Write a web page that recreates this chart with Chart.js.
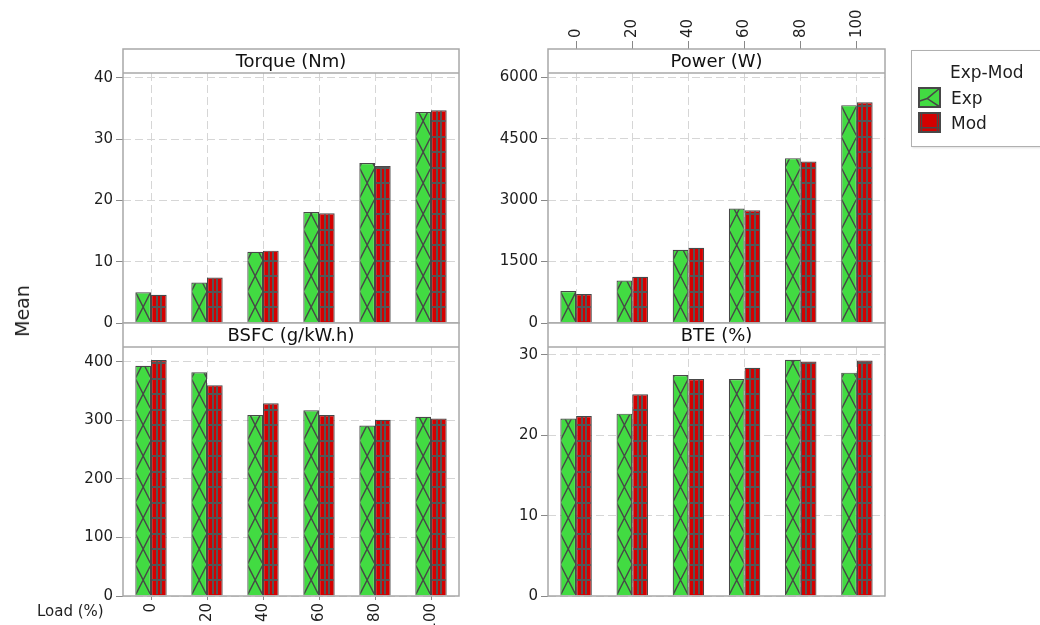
<!DOCTYPE html>
<html>
<head>
<meta charset="utf-8">
<script src="https://cdn.jsdelivr.net/npm/chart.js@4.4.1/dist/chart.umd.min.js"></script>
<style>
  html, body { margin: 0; padding: 0; background: #fff; }
  #wrap { position: relative; width: 1040px; height: 625px; overflow: hidden;
          font-family: 'DejaVu Sans', sans-serif; color: #1e1e1e; }
  #wrap canvas.panel { position: absolute; left: 0; top: 0; }
  #mean { position: absolute; left: 22px; top: 311px; font-size: 19px; white-space: nowrap;
          transform: translate(-50%, -50%) rotate(-90deg); }
  #load { position: absolute; left: 37px; top: 602px; font-size: 15px; white-space: nowrap; }
  #legend { position: absolute; left: 911px; top: 50px; width: 140px; height: 95px;
            border: 1px solid #b0b0b0; background: #fff; box-shadow: 1px 1px 2px rgba(0,0,0,0.12); }
  #legend .lt { position: absolute; left: 38px; top: 11px; font-size: 17px; white-space: nowrap; }
  #legend .row { position: absolute; left: 6px; height: 22px; white-space: nowrap; }
  #legend .row canvas { position: absolute; left: 0; top: 0; }
  #legend .row span { position: absolute; left: 33px; top: 0px; font-size: 17px; line-height: 22px; }
</style>
</head>
<body>
<div id="wrap">
  <canvas class="panel" id="cTorque" width="1040" height="625"></canvas>
  <canvas class="panel" id="cPower" width="1040" height="625"></canvas>
  <canvas class="panel" id="cBsfc" width="1040" height="625"></canvas>
  <canvas class="panel" id="cBte" width="1040" height="625"></canvas>
  <div id="mean">Mean</div>
  <div id="load">Load (%)</div>
  <div id="legend">
    <div class="lt">Exp-Mod</div>
    <div class="row" style="top:36px"><canvas id="swExp" width="23" height="21"></canvas><span>Exp</span></div>
    <div class="row" style="top:61px"><canvas id="swMod" width="23" height="21"></canvas><span>Mod</span></div>
  </div>
</div>
<script>
// Engine load levels (%)
const loads = ['0', '20', '40', '60', '80', '100'];

// Mean values per load: experiment vs. model
const torqueExp = [5.0, 6.6, 11.6, 18.1, 26.1, 34.4];
const torqueMod = [4.6, 7.4, 11.8, 17.9, 25.6, 34.7];
const powerExp  = [780, 1035, 1790, 2795, 4025, 5320];
const powerMod  = [710, 1130, 1835, 2755, 3945, 5390];
const bsfcExp   = [393, 382, 309, 317, 291, 306];
const bsfcMod   = [403, 360, 329, 309, 301, 303];
const bteExp    = [22.1, 22.7, 27.5, 27.0, 29.4, 27.8];
const bteMod    = [22.4, 25.1, 27.0, 28.4, 29.2, 29.3];

// y tick labels per panel
const torqueTicks = [0, 10, 20, 30, 40];
const powerTicks  = [0, 1500, 3000, 4500, 6000];
const bsfcTicks   = [0, 100, 200, 300, 400];
const bteTicks    = [0, 10, 20, 30];

const EXP_FILL = '#42db42';
const MOD_FILL = '#d40000';
const EDGE = '#484848';
const HATCH = '#474747';
const GRID_HATCH = '#555555';
const GRID = '#d6d6d6';
const FRAME = '#a8a8a8';
const STRIP_H = 24;
const Y_AXIS_W = 60;
const TICK_FONT = 15;

Chart.defaults.font.family = "'DejaVu Sans', sans-serif";
Chart.defaults.color = '#1e1e1e';

// Hatch lines inside a bar rectangle
function hatchRect(ctx, kind, l, t, r, b, base) {
  ctx.save();
  ctx.beginPath();
  ctx.rect(l, t, r - l, b - t);
  ctx.clip();
  if (kind === 'cross') {
    ctx.strokeStyle = HATCH;
    ctx.lineWidth = 1.4;
    ctx.beginPath();
    const P = 31;
    for (let yk = base + P; yk > t - P; yk -= P) {
      ctx.moveTo(l - 1, yk); ctx.lineTo(r + 1, yk - P);
      ctx.moveTo(l - 1, yk - P); ctx.lineTo(r + 1, yk);
    }
    ctx.stroke();
  } else {
    // square grid: two vertical rules and a horizontal rule every half period
    ctx.fillStyle = GRID_HATCH;
    const w = r - l;
    [l + w / 3, l + 2 * w / 3].forEach(vx => {
      ctx.fillRect(Math.round(vx) - 1, t, 2, b - t);
    });
    for (let yk = base - 15.5; yk > t; yk -= 15.5) {
      ctx.fillRect(l, Math.round(yk) - 1, w, 2);
    }
  }
  ctx.restore();
}

const barHatch = {
  id: 'barHatch',
  afterDatasetsDraw(chart) {
    const ctx = chart.ctx;
    chart.data.datasets.forEach((ds, di) => {
      const meta = chart.getDatasetMeta(di);
      meta.data.forEach(bar => {
        const { x, y, base, width } = bar.getProps(['x', 'y', 'base', 'width'], true);
        const l = x - width / 2 + 1, r = x + width / 2 - 1;
        const t = Math.min(y, base) + 1, b = Math.max(y, base) - 1;
        if (b - t < 1) return;
        hatchRect(ctx, ds.hatch, l, t, r, b, base);
      });
    });
  }
};

// Panel frame with a header strip carrying the panel name
const panelFrame = {
  id: 'panelFrame',
  afterDraw(chart, args, opts) {
    const { ctx, chartArea: a } = chart;
    const sb = a.top + STRIP_H;
    ctx.save();
    ctx.fillStyle = '#fff';
    ctx.fillRect(a.left, a.top, a.right - a.left, STRIP_H);
    ctx.strokeStyle = FRAME;
    ctx.lineWidth = 1.5;
    ctx.strokeRect(a.left, a.top, a.right - a.left, a.bottom - a.top);
    ctx.beginPath();
    ctx.moveTo(a.left, sb); ctx.lineTo(a.right, sb);
    ctx.stroke();
    ctx.fillStyle = '#111';
    ctx.font = "18px 'DejaVu Sans', sans-serif";
    ctx.textAlign = 'center';
    ctx.textBaseline = 'middle';
    ctx.fillText(opts.title, (a.left + a.right) / 2, a.top + STRIP_H / 2 + 1);
    ctx.restore();
  }
};

function makePanel(id, cfg) {
  const xTop = cfg.xAxis === 'top';
  const xBottom = cfg.xAxis === 'bottom';
  const xH = xTop ? cfg.T : (xBottom ? 625 - cfg.B : 0);
  return new Chart(document.getElementById(id), {
    type: 'bar',
    data: {
      labels: loads,
      datasets: [
        { label: 'Exp', data: cfg.exp, backgroundColor: EXP_FILL, borderColor: EDGE,
          borderWidth: 1.2, hatch: 'cross' },
        { label: 'Mod', data: cfg.mod, backgroundColor: MOD_FILL, borderColor: EDGE,
          borderWidth: 1.2, hatch: 'grid' }
      ]
    },
    options: {
      responsive: false,
      animation: false,
      devicePixelRatio: 1,
      categoryPercentage: 0.56,
      barPercentage: 1.0,
      layout: {
        padding: {
          left: cfg.L - Y_AXIS_W,
          right: 1040 - cfg.R,
          top: xTop ? 0 : cfg.T,
          bottom: xBottom ? 0 : 625 - cfg.B
        }
      },
      plugins: {
        legend: { display: false },
        tooltip: { enabled: false },
        panelFrame: { title: cfg.title }
      },
      scales: {
        x: {
          position: xTop ? 'top' : 'bottom',
          offset: true,
          grid: { offset: false, color: GRID, lineWidth: 1,
                  drawTicks: xTop || xBottom, tickLength: xTop ? 8 : 4, tickColor: '#888' },
          border: { display: false, dash: [8, 4] },
          ticks: { display: xTop || xBottom, minRotation: 90, maxRotation: 90, autoSkip: false,
                   padding: 3, font: { size: TICK_FONT }, color: '#1e1e1e',
                   // rotated labels above the axis sit one line-height off centre
                   labelOffset: xTop ? TICK_FONT * 1.2 : 0 },
          afterFit: s => { s.height = xH; }
        },
        y: {
          min: 0,
          max: cfg.max,
          afterBuildTicks: s => { s.ticks = cfg.ticks.map(v => ({ value: v })); },
          afterFit: s => { s.width = Y_AXIS_W; },
          grid: { color: GRID, lineWidth: 1, tickLength: 7, tickColor: '#888' },
          border: { display: false, dash: [8, 4] },
          ticks: { padding: 3, font: { size: TICK_FONT }, color: '#1e1e1e',
                   callback: v => String(v) }
        }
      }
    },
    plugins: [barHatch, panelFrame]
  });
}

makePanel('cTorque', { title: 'Torque (Nm)', L: 123, R: 459, T: 49, B: 323,
  exp: torqueExp, mod: torqueMod, ticks: torqueTicks, max: 44.68, xAxis: 'none' });
makePanel('cPower', { title: 'Power (W)', L: 548, R: 885, T: 49, B: 323,
  exp: powerExp, mod: powerMod, ticks: powerTicks, max: 6691, xAxis: 'top' });
makePanel('cBsfc', { title: 'BSFC (g/kW.h)', L: 123, R: 459, T: 323, B: 596,
  exp: bsfcExp, mod: bsfcMod, ticks: bsfcTicks, max: 466.1, xAxis: 'bottom' });
makePanel('cBte', { title: 'BTE (%)', L: 548, R: 885, T: 323, B: 596,
  exp: bteExp, mod: bteMod, ticks: bteTicks, max: 33.98, xAxis: 'none' });

// Legend swatches
function drawSwatch(id, fill, kind) {
  const c = document.getElementById(id);
  const ctx = c.getContext('2d');
  const w = c.width, h = c.height;
  ctx.fillStyle = fill;
  ctx.fillRect(0, 0, w, h);
  ctx.strokeStyle = HATCH;
  ctx.lineWidth = 1.5;
  ctx.beginPath();
  if (kind === 'cross') {
    ctx.moveTo(w - 1, 1); ctx.lineTo(w * 0.4, h * 0.55); ctx.lineTo(w - 1, h - 1);
    ctx.moveTo(w * 0.4, h * 0.55); ctx.lineTo(1, h * 0.68);
  } else {
    ctx.moveTo(1, h * 0.75); ctx.lineTo(w - 1, h * 0.75);
    ctx.moveTo(3.5, 1); ctx.lineTo(3.5, h - 1);
    ctx.moveTo(w - 3.5, 1); ctx.lineTo(w - 3.5, h - 1);
  }
  ctx.stroke();
  ctx.strokeStyle = EDGE;
  ctx.lineWidth = 2;
  ctx.strokeRect(1, 1, w - 2, h - 2);
}
drawSwatch('swExp', EXP_FILL, 'cross');
drawSwatch('swMod', MOD_FILL, 'grid');
</script>
</body>
</html>
